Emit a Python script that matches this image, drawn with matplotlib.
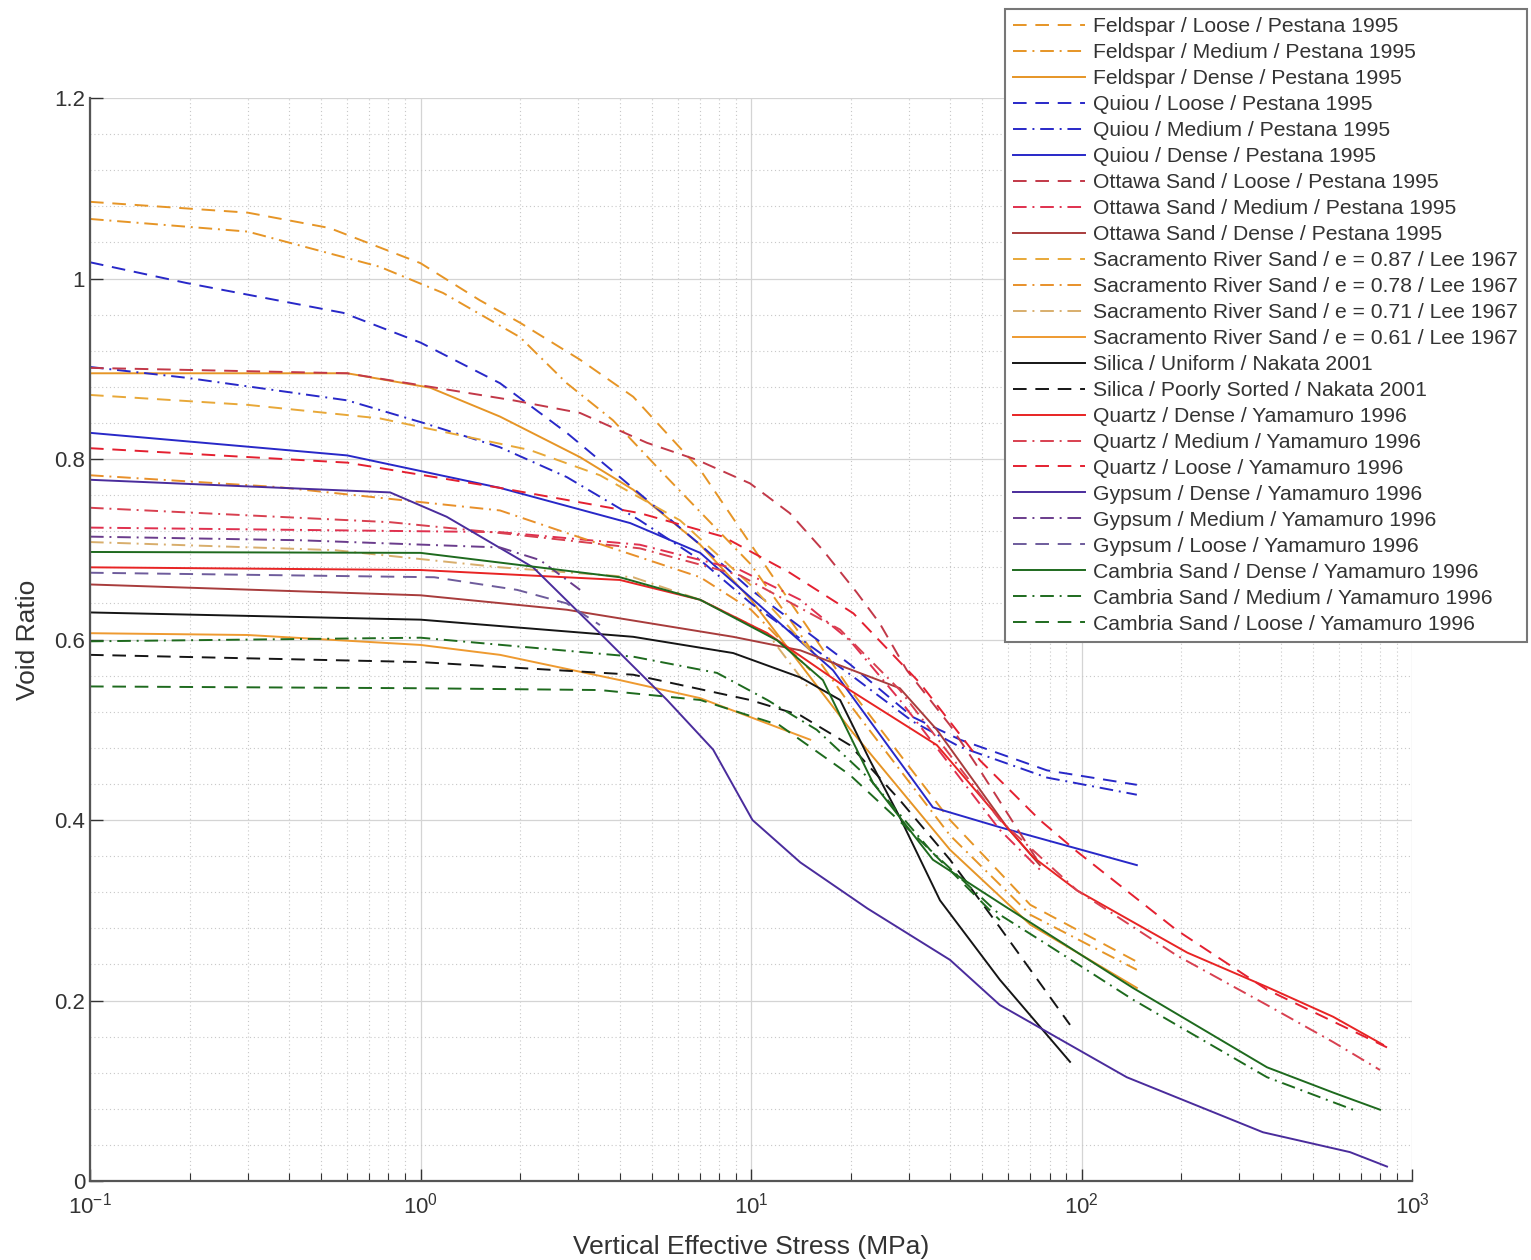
import matplotlib
matplotlib.use("Agg")
import matplotlib.pyplot as plt
from matplotlib.ticker import LogLocator, MultipleLocator, FuncFormatter

plt.rcParams['font.family'] = ['Liberation Sans', 'DejaVu Sans']

# ---- data (stress in MPa, void ratio) ----
feld_loose_x = [0.1, 0.3, 0.53, 1.0, 1.51, 2.0, 3.04, 4.4, 7.02, 10, 20, 40, 70, 147]
feld_loose_e = [1.085, 1.073, 1.056, 1.017, 0.976, 0.951, 0.910, 0.869, 0.788, 0.705, 0.544, 0.400, 0.306, 0.243]
feld_med_x = [0.1, 0.3, 0.753, 1.17, 2.0, 2.77, 3.82, 5.42, 10, 20, 40, 70, 147]
feld_med_e = [1.066, 1.052, 1.013, 0.984, 0.935, 0.884, 0.843, 0.784, 0.683, 0.527, 0.383, 0.295, 0.234]
feld_dense_x = [0.1, 0.6, 1.07, 1.74, 3.04, 4.4, 7.02, 10, 20, 40, 70, 147]
feld_dense_e = [0.895, 0.895, 0.879, 0.847, 0.802, 0.766, 0.705, 0.644, 0.500, 0.367, 0.284, 0.214]

quiou_loose_x = [0.1, 0.196, 0.583, 1.0, 1.74, 2.77, 4.01, 7.02, 10, 20, 30.9, 42.9, 78.6, 147]
quiou_loose_e = [1.018, 0.995, 0.962, 0.929, 0.884, 0.829, 0.780, 0.705, 0.655, 0.572, 0.514, 0.489, 0.455, 0.439]
quiou_med_x = [0.1, 0.196, 0.6, 1.02, 1.74, 2.77, 4.61, 7.02, 10, 20, 30.9, 42.9, 78.6, 147]
quiou_med_e = [0.902, 0.890, 0.865, 0.840, 0.813, 0.780, 0.732, 0.688, 0.640, 0.561, 0.509, 0.481, 0.447, 0.428]
quiou_dense_x = [0.1, 0.6, 1.74, 4.31, 7.02, 17.7, 35.5, 56.6, 147]
quiou_dense_e = [0.829, 0.804, 0.768, 0.729, 0.696, 0.566, 0.414, 0.392, 0.350]

ott_loose_x = [0.1, 0.6, 1.07, 1.91, 3.04, 4.84, 6.87, 9.93, 13.1, 16.5, 20.9, 24.5, 29.6, 40, 49.3, 73.3]
ott_loose_e = [0.901, 0.895, 0.880, 0.865, 0.851, 0.818, 0.799, 0.773, 0.740, 0.699, 0.652, 0.618, 0.566, 0.505, 0.455, 0.356]
ott_med_x = [0.1, 1.74, 4.61, 9.27, 14.1, 19.9, 28.2, 40, 56.6, 74.8]
ott_med_e = [0.724, 0.719, 0.705, 0.677, 0.644, 0.599, 0.533, 0.461, 0.389, 0.345]
ott_dense_x = [0.1, 1.0, 2.77, 8.83, 14.1, 28.2, 36.5, 59.5, 74.8]
ott_dense_e = [0.661, 0.649, 0.633, 0.603, 0.588, 0.546, 0.500, 0.392, 0.350]

sac87_x = [0.1, 0.3, 0.753, 2.14, 3.49, 6.10, 10, 15.1]
sac87_e = [0.871, 0.860, 0.845, 0.810, 0.782, 0.732, 0.660, 0.588]
sac78_x = [0.1, 0.368, 1.74, 2.77, 7.02, 10, 15.1]
sac78_e = [0.782, 0.769, 0.743, 0.718, 0.669, 0.633, 0.566]
sac71_x = [0.1, 0.55, 1.74, 4.4, 7.02, 11.2, 15.1]
sac71_e = [0.708, 0.699, 0.680, 0.669, 0.644, 0.607, 0.544]
sac61_x = [0.1, 0.3, 1.0, 1.74, 4.01, 7.02, 15.1]
sac61_e = [0.607, 0.605, 0.594, 0.583, 0.555, 0.535, 0.489]

sil_uni_x = [0.1, 1.0, 4.4, 8.83, 14.1, 18.6, 22.9, 28.2, 37.3, 56.6, 92.3]
sil_uni_e = [0.630, 0.622, 0.603, 0.585, 0.558, 0.533, 0.466, 0.403, 0.311, 0.223, 0.132]
sil_poor_x = [0.1, 1.0, 4.4, 9.93, 14.1, 19.9, 28.2, 40, 56.6, 92.3]
sil_poor_e = [0.583, 0.575, 0.561, 0.533, 0.516, 0.483, 0.422, 0.356, 0.281, 0.173]

qtz_dense_x = [0.1, 1.0, 4.01, 7.02, 11.2, 19.9, 36.5, 59.5, 71.3, 96.9, 209, 364, 577, 817]
qtz_dense_e = [0.680, 0.677, 0.666, 0.644, 0.607, 0.544, 0.483, 0.392, 0.359, 0.322, 0.253, 0.215, 0.182, 0.151]
qtz_med_x = [0.1, 0.809, 1.74, 4.61, 9.27, 18.6, 28.2, 40, 56.6, 96.9, 194, 364, 577, 800]
qtz_med_e = [0.746, 0.730, 0.718, 0.701, 0.671, 0.611, 0.544, 0.472, 0.400, 0.322, 0.250, 0.195, 0.154, 0.123]
qtz_loose_x = [0.1, 0.6, 1.74, 4.61, 8.23, 13.1, 20.4, 32.4, 49.3, 74.8, 96.9, 194, 364, 840]
qtz_loose_e = [0.812, 0.796, 0.768, 0.740, 0.714, 0.674, 0.629, 0.552, 0.466, 0.400, 0.365, 0.278, 0.212, 0.148]

gyp_dense_x = [0.1, 0.809, 1.20, 2.19, 3.49, 5.57, 7.68, 10.1, 14.1, 22.5, 40, 56.6, 137, 354, 649, 840]
gyp_dense_e = [0.777, 0.763, 0.736, 0.680, 0.607, 0.533, 0.478, 0.400, 0.353, 0.302, 0.245, 0.195, 0.115, 0.054, 0.032, 0.016]
gyp_med_x = [0.1, 0.431, 1.74, 2.3, 3.04]
gyp_med_e = [0.714, 0.710, 0.702, 0.688, 0.655]
gyp_loose_x = [0.1, 1.1, 1.96, 2.77, 3.49]
gyp_loose_e = [0.674, 0.669, 0.655, 0.640, 0.616]

cam_dense_x = [0.1, 1.0, 4.01, 7.02, 12.0, 16.5, 23.4, 35.5, 56.6, 143, 364, 577, 800]
cam_dense_e = [0.697, 0.696, 0.669, 0.644, 0.599, 0.555, 0.441, 0.356, 0.308, 0.214, 0.126, 0.098, 0.079]
cam_med_x = [0.1, 1.0, 4.4, 7.89, 11.2, 15.8, 22.9, 34.8, 56.6, 76.4, 143, 364, 663]
cam_med_e = [0.598, 0.602, 0.581, 0.563, 0.533, 0.500, 0.445, 0.367, 0.295, 0.265, 0.201, 0.115, 0.079]
cam_loose_x = [0.1, 1.0, 3.49, 7.02, 12.2, 19.9, 32.4, 56.6]
cam_loose_e = [0.548, 0.546, 0.544, 0.533, 0.505, 0.450, 0.378, 0.289]

# ---- styles ----
DASH = (0, (7, 4.5))
DASHDOT = (0, (7, 3, 1, 3))
SOLID = '-'

orange = '#E69526'
blue = '#2828C8'
series = [
    (feld_loose_x, feld_loose_e, orange, DASH, 'Feldspar / Loose / Pestana 1995'),
    (feld_med_x, feld_med_e, orange, DASHDOT, 'Feldspar / Medium / Pestana 1995'),
    (feld_dense_x, feld_dense_e, orange, SOLID, 'Feldspar / Dense / Pestana 1995'),
    (quiou_loose_x, quiou_loose_e, blue, DASH, 'Quiou / Loose / Pestana 1995'),
    (quiou_med_x, quiou_med_e, blue, DASHDOT, 'Quiou / Medium / Pestana 1995'),
    (quiou_dense_x, quiou_dense_e, blue, SOLID, 'Quiou / Dense / Pestana 1995'),
    (ott_loose_x, ott_loose_e, '#C23848', DASH, 'Ottawa Sand / Loose / Pestana 1995'),
    (ott_med_x, ott_med_e, '#E0304E', DASHDOT, 'Ottawa Sand / Medium / Pestana 1995'),
    (ott_dense_x, ott_dense_e, '#A83C3C', SOLID, 'Ottawa Sand / Dense / Pestana 1995'),
    (sac87_x, sac87_e, '#E8A838', DASH, 'Sacramento River Sand / e = 0.87 / Lee 1967'),
    (sac78_x, sac78_e, '#E8902A', DASHDOT, 'Sacramento River Sand / e = 0.78 / Lee 1967'),
    (sac71_x, sac71_e, '#D8AE6C', DASHDOT, 'Sacramento River Sand / e = 0.71 / Lee 1967'),
    (sac61_x, sac61_e, '#EE9A30', SOLID, 'Sacramento River Sand / e = 0.61 / Lee 1967'),
    (sil_uni_x, sil_uni_e, '#151515', SOLID, 'Silica / Uniform / Nakata 2001'),
    (sil_poor_x, sil_poor_e, '#151515', DASH, 'Silica / Poorly Sorted / Nakata 2001'),
    (qtz_dense_x, qtz_dense_e, '#E82424', SOLID, 'Quartz / Dense / Yamamuro 1996'),
    (qtz_med_x, qtz_med_e, '#D84050', DASHDOT, 'Quartz / Medium / Yamamuro 1996'),
    (qtz_loose_x, qtz_loose_e, '#E42030', DASH, 'Quartz / Loose / Yamamuro 1996'),
    (gyp_dense_x, gyp_dense_e, '#4A2C9C', SOLID, 'Gypsum / Dense / Yamamuro 1996'),
    (gyp_med_x, gyp_med_e, '#6A3C8C', DASHDOT, 'Gypsum / Medium / Yamamuro 1996'),
    (gyp_loose_x, gyp_loose_e, '#6E5C9C', DASH, 'Gypsum / Loose / Yamamuro 1996'),
    (cam_dense_x, cam_dense_e, '#1E6A1E', SOLID, 'Cambria Sand / Dense / Yamamuro 1996'),
    (cam_med_x, cam_med_e, '#1E6A1E', DASHDOT, 'Cambria Sand / Medium / Yamamuro 1996'),
    (cam_loose_x, cam_loose_e, '#1E6A1E', DASH, 'Cambria Sand / Loose / Yamamuro 1996'),
]

fig = plt.figure(figsize=(15.31, 12.6), dpi=100)
ax = fig.add_axes([0.0588, 0.0627, 0.8635, 0.8595])

for x, e, c, ls, lab in series:
    ax.plot(x, e, color=c, linestyle=ls, linewidth=1.4, label=lab)

ax.set_xscale('log')
ax.set_xlim(0.1, 1000)
ax.set_ylim(0, 1.2)
ax.xaxis.set_major_locator(LogLocator(base=10, numticks=10))
ax.xaxis.set_minor_locator(LogLocator(base=10, subs=range(2, 10), numticks=50))
ax.yaxis.set_major_locator(MultipleLocator(0.2))
ax.yaxis.set_minor_locator(MultipleLocator(0.04))
ax.yaxis.set_major_formatter(FuncFormatter(lambda v, p: f'{v:g}'))

ax.grid(True, which='major', color='#d4d4d4', linewidth=0.9, linestyle='-')
ax.grid(True, which='minor', color='#c8c8c8', linewidth=0.8, linestyle=(0, (1, 2.5)))
ax.set_axisbelow(True)

for s in ('top', 'right'):
    ax.spines[s].set_visible(False)
for s in ('left', 'bottom'):
    ax.spines[s].set_color('#555555')
    ax.spines[s].set_linewidth(1.6)

ax.tick_params(which='both', direction='in', colors='#333333', labelsize=16)
ax.tick_params(which='major', length=9, width=1.0)
ax.tick_params(which='minor', length=6, width=0.8)
ax.tick_params(axis='y', which='minor', length=0)
ax.tick_params(axis='x', pad=8)

ax.set_xlabel('Vertical Effective Stress (MPa)', fontsize=19, color='#333333', labelpad=12)
ax.set_ylabel('Void Ratio', fontsize=19, color='#333333', labelpad=10)

leg = ax.legend(loc='upper left', bbox_to_anchor=(1005 / 1531, 1 - 9 / 1260),
                bbox_transform=fig.transFigure, borderaxespad=0, fontsize=15.2,
                handlelength=3.4, handletextpad=0.38, labelspacing=0.33,
                borderpad=0.4, fancybox=False, framealpha=1, edgecolor='#777777')
leg.get_frame().set_linewidth(1.5)
for t in leg.get_texts():
    t.set_color('#333333')

fig.savefig('out.png', dpi=100)
